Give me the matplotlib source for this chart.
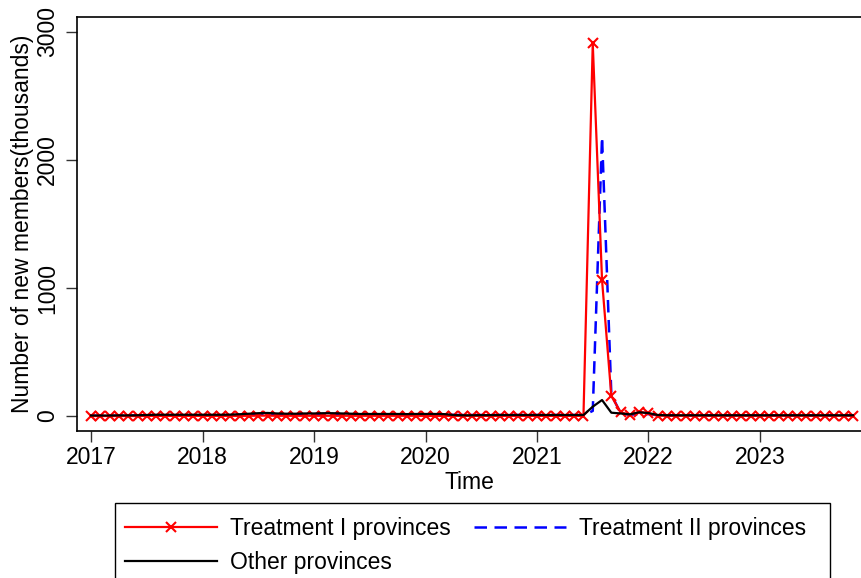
import numpy as np
import matplotlib.pyplot as plt
from matplotlib.patches import Rectangle

plt.rcParams['font.family'] = ['Liberation Sans', 'DejaVu Sans']

# monthly data, 2017m1 - 2023m11 (thousands)
years = [2017, 2018, 2019, 2020, 2021, 2022, 2023]
yticks = [0, 1000, 2000, 3000]

treat1 = [0, 0, 0, 0, 0, 0, 1, 1, 1, 1, 1, 1,
          1, 1, 1, 1, 1, 2, 3, 3, 2, 2, 2, 2,
          2, 2, 2, 2, 2, 2, 2, 2, 2, 2, 2, 2,
          1, 1, 1, 1, 1, 1, 1, 1, 1, 1, 1, 1,
          1, 1, 1, 1, 1, 1, 2910, 1062, 156, 30, 8, 34,
          21, 3, 2, 2, 2, 2, 2, 2, 2, 2, 2, 2,
          2, 2, 2, 2, 2, 2, 2, 2, 2, 2, 2]
treat2 = [2, 2, 2, 2, 3, 3, 5, 6, 6, 6, 6, 6,
          6, 6, 6, 6, 7, 8, 10, 10, 9, 9, 9, 9,
          9, 9, 9, 9, 9, 9, 9, 9, 9, 9, 9, 9,
          10, 10, 9, 9, 8, 8, 8, 8, 8, 8, 8, 8,
          8, 8, 8, 8, 8, 5, 40, 2180, 170, 20, 10, 15,
          15, 6, 5, 5, 5, 5, 5, 5, 5, 5, 4, 4,
          4, 4, 4, 4, 4, 4, 4, 4, 4, 4, 4]
other = [4, 4, 4, 5, 5, 6, 8, 10, 10, 10, 10, 10,
         10, 10, 10, 11, 14, 18, 22, 24, 20, 18, 18, 20,
         20, 22, 22, 20, 18, 16, 16, 16, 16, 16, 15, 16,
         16, 16, 15, 8, 6, 6, 7, 7, 8, 8, 8, 8,
         8, 8, 8, 8, 8, 8, 73, 125, 26, 20, 13, 29,
         23, 8, 6, 6, 6, 6, 6, 6, 6, 6, 6, 6,
         6, 6, 6, 6, 6, 6, 6, 6, 6, 6, 6]

t = 2017 + np.arange(len(treat1)) / 12

W, H = 862, 578
fig = plt.figure(figsize=(8.62, 5.78), dpi=100)
ax = fig.add_axes([77 / W, 1 - 431 / H, 785 / W, 414 / H])

ax.plot(t, treat1, color='red', lw=1.6, marker='x', ms=6.5, mew=1.5,
        label='Treatment I provinces', zorder=3)
ax.plot(t, treat2, color='blue', lw=1.8, ls=(0, (5, 3)),
        label='Treatment II provinces', zorder=2)
ax.plot(t, other, color='black', lw=1.6, label='Other provinces', zorder=4)

fs = 16.5
ax.set_xlim(2016.874, 2023.915)
ax.set_ylim(-117, 3117)
ax.set_xticks(years)
ax.set_yticks(yticks)
ax.set_yticklabels([str(v) for v in yticks], rotation=90, va='center')
ax.tick_params(labelsize=fs, length=8, width=1, color='#333333')
ax.tick_params(axis='y', pad=5)
ax.tick_params(axis='x', pad=3)
ax.spines['right'].set_visible(False)
for s in ['left', 'bottom', 'top']:
    ax.spines[s].set_linewidth(1.2)

ax.set_xlabel('Time', fontsize=fs, labelpad=1)
ax.set_ylabel('Number of new members(thousands)', fontsize=fs)
ax.yaxis.set_label_coords((34 - 77) / 785, 0.5)

handles, labels = ax.get_legend_handles_labels()
order = [0, 2, 1]
leg = fig.legend([handles[i] for i in order], [labels[i] for i in order],
                 loc='upper left',
                 bbox_to_anchor=(115 / W, 1 - 507 / H, 701 / W, 0),
                 mode='expand',
                 ncol=2, fontsize=fs, frameon=False,
                 handlelength=4.0, handletextpad=0.55,
                 columnspacing=1.5, borderpad=0.45, labelspacing=0.45,
                 borderaxespad=0)
fig.add_artist(Rectangle((115 / W, -0.02), 715 / W, 0.02 + 75 / H,
                         transform=fig.transFigure, fill=False,
                         ec='black', lw=1.0))

fig.savefig('out.png', dpi=100)
